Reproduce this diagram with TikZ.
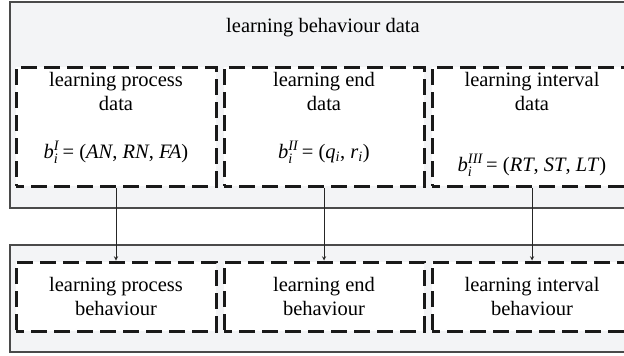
\documentclass[tikz,border=0pt]{standalone}
\usepackage{amsmath}
\usepackage{fontspec}
\setmainfont{Liberation Serif}
\usetikzlibrary{arrows}
\definecolor{panelgray}{HTML}{F3F4F6}
\definecolor{edgegray}{HTML}{4A4A4A}
\tikzstyle{panel} = [rectangle, draw=edgegray, fill=panelgray, line width=1.3pt, minimum width=627pt]
\tikzstyle{group} = [rectangle, draw=black!90, fill=white, line width=3pt, dash pattern=on 16pt off 7pt, dash phase=8pt, minimum width=200pt]
\tikzstyle{boxtext} = [align=center, inner sep=2pt, font=\fontsize{20.5}{24}\selectfont]
\tikzstyle{arrow} = [->, >=stealth, line width=0.9pt, draw=black!85]

\begin{document}
\begin{tikzpicture}[x=1pt, y=-1pt, node distance=208pt]
    \useasboundingbox (0,0) rectangle (624,356);
    \node (datapanel) [panel, minimum height=206pt] at (323.5,105) {};
    \node (behpanel) [panel, minimum height=107pt] at (323.5,298.5) {};
    \node (title) [boxtext] at (323,28) {learning behaviour data};

    \node (procdata) [group, minimum height=119pt] at (116,126.5) {};
    \node (enddata) [group, minimum height=119pt, right of=procdata] {};
    \node (intdata) [group, minimum height=119pt, right of=enddata] {};

    \node (proctitle) [boxtext, anchor=north] at ([yshift=-5pt]procdata.north) {learning process\\data};
    \node (endtitle) [boxtext, anchor=north] at ([yshift=-5pt]enddata.north) {learning end\\data};
    \node (inttitle) [boxtext, anchor=north] at ([yshift=-5pt]intdata.north) {learning interval\\data};

    \node (procvec) [boxtext, anchor=base] at ([yshift=-31.5pt]procdata.center) {\textit{b}$_{\textit{i}}^{\textit{I}}$\,= (\textit{AN}, \textit{RN}, \textit{FA})};
    \node (endvec) [boxtext, anchor=base] at ([yshift=-31.5pt]enddata.center) {\textit{b}$_{\textit{i}}^{\textit{II}}$\,= (\textit{q}$_{\textit{i}}$, \textit{r}$_{\textit{i}}$)};
    \node (intvec) [boxtext, anchor=base] at ([yshift=-45pt]intdata.center) {\textit{b}$_{\textit{i}}^{\textit{III}}$\,= (\textit{RT}, \textit{ST}, \textit{LT})};

    \node (procbeh) [group, boxtext, minimum height=69pt, below of=procdata, yshift=38pt] {learning process\\behaviour};
    \node (endbeh) [group, boxtext, minimum height=69pt, below of=enddata, yshift=38pt] {learning end\\behaviour};
    \node (intbeh) [group, boxtext, minimum height=69pt, below of=intdata, yshift=38pt] {learning interval\\behaviour};

    \draw [arrow] (procdata) -- (procbeh);
    \draw [arrow] (enddata) -- (endbeh);
    \draw [arrow] (intdata) -- (intbeh);

\end{tikzpicture}
\end{document}
